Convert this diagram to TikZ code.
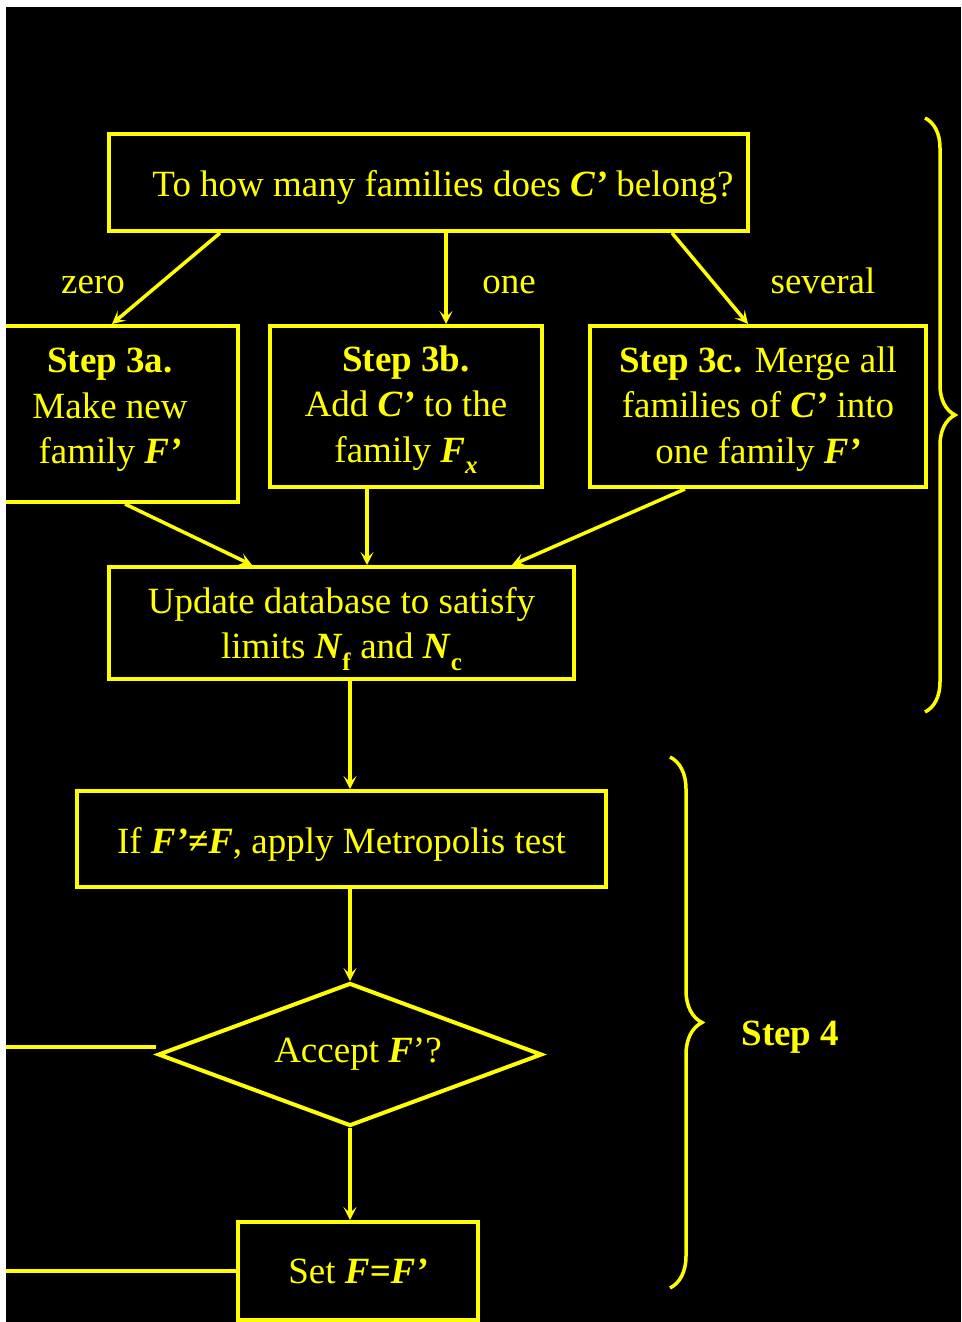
\documentclass[tikz,border=0pt]{standalone}
\usepackage{fontspec}
\setmainfont{Liberation Serif}
\usepackage{tikz}
\usetikzlibrary{arrows.meta,positioning,shapes.geometric,calc,decorations.pathreplacing}
\definecolor{flowyellow}{RGB}{255,255,0}
\newcommand{\bfit}[1]{\textbf{\textit{#1}}}
\newcommand{\lowsub}[1]{\raisebox{-0.32em}{\fontsize{25pt}{25pt}\selectfont #1}}
\newcommand{\shiftedtext}[2]{\raisebox{#1}[\height][\depth]{\begin{tabular}{@{}c@{}}#2\end{tabular}}}

\begin{document}
\begin{tikzpicture}[x=1pt, y=-1pt,
    font=\fontsize{37pt}{45.5pt}\selectfont,
    every node/.style={text=flowyellow},
    flowbox/.style={draw=flowyellow, line width=4pt, rectangle, align=center, inner sep=0pt},
    flowarrow/.style={draw=flowyellow, line width=3.5pt, -{Stealth[length=13pt, width=13pt, inset=6pt]}},
    flowline/.style={draw=flowyellow, line width=3.5pt},
    flowbrace/.style={draw=flowyellow, line width=3.5pt, decorate}]
        \useasboundingbox (0,0) rectangle (961,1322);
        \fill[white] (0,0) rectangle (961,1322);
        \fill[black] (6,7) rectangle (961,1322);
        \node[flowbox, minimum width=639pt, minimum height=97pt] (ask) at (428.5,182.5) {\shiftedtext{-5pt}{\hspace*{29pt}To how many families does \bfit{C’} belong?}};
        \node[flowbox, minimum width=256pt, minimum height=176pt] (s3a) at (110,414) {\shiftedtext{5pt}{\textbf{Step 3a.}\\Make new\\family \bfit{F’}}};
        \node[flowbox, minimum width=272pt, minimum height=161pt] (s3b) at (406,406.5) {\shiftedtext{-1pt}{\textbf{Step 3b.}\\Add \bfit{C’} to the\\family \bfit{F}\lowsub{\bfit{x}}}};
        \node[flowbox, minimum width=336pt, minimum height=161pt] (s3c) at (758,406.5) {\shiftedtext{-2pt}{\textbf{Step 3c.} Merge all\\families of \bfit{C’} into\\one family \bfit{F’}}};
        \node[flowbox, minimum width=465pt, minimum height=112pt] (upd) at (341.5,623) {\shiftedtext{-4pt}{Update database to satisfy\\limits \bfit{N}\lowsub{\textbf{f}} and \bfit{N}\lowsub{\textbf{c}}}};
        \node[flowbox, minimum width=529pt, minimum height=96pt] (metro) at (341.5,839) {\shiftedtext{-5pt}{If \bfit{F’≠F}, apply Metropolis test}};
        \node[flowbox, diamond, aspect=2.69, minimum width=384pt, minimum height=143pt] (accept) at (350,1054.5) {\hspace*{16pt}Accept \bfit{F}’?};
        \node[flowbox, minimum width=240pt, minimum height=98pt] (setf) at (358,1271) {Set \bfit{F=F’}};
        \node[anchor=base] (zero) at (93,293) {zero};
        \node[anchor=base] (one) at (509,293) {one};
        \node[anchor=base] (several) at (823,293) {several};
        \node[anchor=base west] (step4) at (738,1045) {\textbf{Step 4}};
        \draw[flowarrow] ([xshift=113pt]ask.south west) -- ([xshift=2pt]s3a.north);
        \draw[flowarrow] ([xshift=40pt]s3b.north |- ask.south) -- ([xshift=40pt]s3b.north);
        \draw[flowarrow] ([xshift=-78pt]ask.south east) -- ([xshift=-10pt]s3c.north);
        \draw[flowarrow] ([xshift=15pt]s3a.south) -- ([xshift=-89.5pt]upd.north);
        \draw[flowarrow] ([xshift=-39pt]s3b.south) -- ([xshift=-39pt]s3b.south |- upd.north);
        \draw[flowarrow] ([xshift=-73pt]s3c.south) -- ([xshift=170.5pt]upd.north);
        \draw[flowarrow] ([xshift=8.5pt]upd.south) -- ([xshift=8.5pt]metro.north);
        \draw[flowarrow] ([xshift=8.5pt]metro.south) -- (accept.north);
        \draw[flowarrow] (accept.south) -- ([xshift=-8pt]setf.north);
        \coordinate (exitA) at (0,1047);
        \coordinate (exitB) at (0,1271);
        \draw[flowline] ([yshift=7.5pt]accept.west) -- (exitA);
        \draw[flowline] (setf.west) -- (exitB);
        \coordinate (braceAtop) at (925,118);
        \coordinate (braceAbot) at (925,712);
        \coordinate (braceBtop) at (670,757);
        \coordinate (braceBbot) at (670,1288);
        \draw[flowbrace, decoration={brace, amplitude=30pt}] (braceAtop) -- (braceAbot);
        \draw[flowbrace, decoration={brace, amplitude=32pt}] (braceBtop) -- (braceBbot);
        \fill[white] (0,0) rectangle (6,1322);
        \fill[white] (0,0) rectangle (961,7);
      \end{tikzpicture}
\end{document}
